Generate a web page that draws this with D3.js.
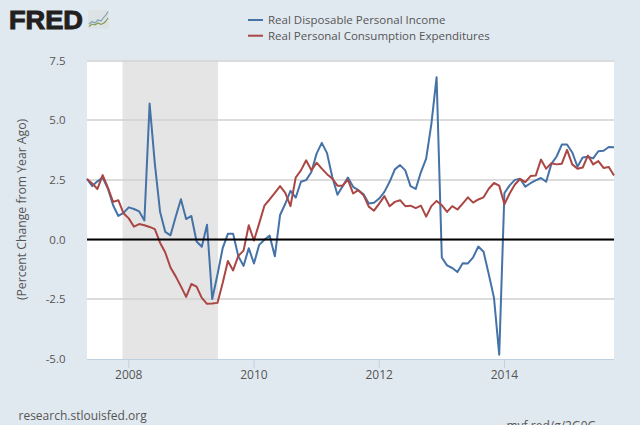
<!DOCTYPE html>
<html><head><meta charset="utf-8">
<script src="https://cdn.jsdelivr.net/npm/d3@7/dist/d3.min.js"></script>
<style>html,body{margin:0;padding:0;background:#e1e9f0;overflow:hidden}svg{display:block}text{font-family:"Open Sans",sans-serif}</style>
</head><body><svg id="c" width="640" height="425"></svg>
<script>
const startDate = new Date(2007, 4, 1);
const income = [2.54,2.24,2.44,2.6,2.14,1.44,0.99,1.12,1.35,1.28,1.18,0.8,5.7,3.18,1.17,0.32,0.18,0.96,1.69,0.86,0.99,-0.08,-0.3,0.62,-2.49,-1.47,-0.36,0.24,0.25,-0.7,-1.1,-0.36,-1.0,-0.22,-0.01,0.17,-0.7,1.03,1.5,2.04,1.76,2.42,2.49,2.83,3.6,4.05,3.62,2.63,1.88,2.24,2.6,2.21,2.07,1.9,1.51,1.54,1.72,2.0,2.42,2.94,3.12,2.9,2.24,2.12,2.83,3.39,4.85,6.8,-0.75,-1.08,-1.19,-1.36,-0.99,-1.0,-0.74,-0.29,-0.51,-1.45,-2.44,-4.82,1.95,2.27,2.5,2.55,2.22,2.36,2.48,2.58,2.42,3.17,3.48,3.98,3.98,3.65,3.05,3.44,3.47,3.4,3.7,3.72,3.88,3.87];
const consumption = [2.54,2.35,2.12,2.7,2.18,1.58,1.65,1.1,0.89,0.54,0.65,0.6,0.53,0.44,-0.13,-0.54,-1.17,-1.54,-1.96,-2.4,-1.86,-1.97,-2.44,-2.69,-2.68,-2.65,-1.82,-0.9,-1.29,-0.68,-0.46,0.6,-0.04,0.68,1.42,1.68,1.96,2.24,1.96,1.4,2.6,2.9,3.32,2.9,3.22,2.97,2.74,2.56,2.26,2.26,2.51,1.93,2.07,1.86,1.38,1.21,1.51,1.82,1.4,1.58,1.65,1.4,1.42,1.32,1.42,0.96,1.4,1.62,1.44,1.16,1.4,1.26,1.51,1.77,1.55,1.68,1.77,2.13,2.37,2.26,1.48,1.93,2.31,2.54,2.41,2.66,2.68,3.35,2.97,3.2,3.15,3.18,3.76,3.15,2.97,3.02,3.52,3.15,3.29,3.0,3.04,2.68];
const seriesNames = ["Real Disposable Personal Income","Real Personal Consumption Expenditures"];
const seriesColors = ["#4572a7","#aa4643"];
const yTicks = [7.5,5,2.5,0,-2.5,-5];
const xTickYears = [2008,2010,2012,2014];
const recession = [new Date(2007,11,1), new Date(2009,5,1)];
const yLabel = "(Percent Change from Year Ago)";

const svg = d3.select("#c");
const L=87,R=614,T=60.5,B=359;
const mi = d=>d3.timeMonth.count(startDate,d);
const x = d3.scaleLinear().domain([0,income.length-1]).range([L,R]);
const y = d3.scaleLinear().domain([-5,7.5]).range([B,T]);

svg.append("rect").attr("width",640).attr("height",425).attr("fill","#e1e9f0");
svg.append("rect").attr("x",L).attr("y",T-.5).attr("width",R-L).attr("height",B-T+.5).attr("fill","#fff");
svg.append("rect").attr("x",x(mi(recession[0]))-1).attr("y",T).attr("width",x(mi(recession[1]))-x(mi(recession[0]))+1.5).attr("height",B-T).attr("fill","#e5e5e5");

const gy = svg.append("g");
gy.selectAll("line").data(yTicks.filter(t=>t!==-5)).join("line")
  .attr("x1",L).attr("x2",R).attr("y1",d=>Math.round(y(d))).attr("y2",d=>Math.round(y(d)))
  .attr("stroke","#d0d0d0").attr("stroke-width",1.5);
gy.selectAll("text").data(yTicks).join("text")
  .attr("x",65.5).attr("y",d=>y(d)+4).attr("text-anchor","end")
  .attr("font-size",11.5).attr("fill","#555").text(d=>d.toFixed(1));

svg.append("line").attr("x1",L).attr("x2",R).attr("y1",B+.5).attr("y2",B+.5).attr("stroke","#c0d0e0");
const gx = svg.append("g");
const xt = xTickYears.map(v=>mi(new Date(v,0,1)));
gx.selectAll("line").data(xt).join("line")
  .attr("x1",d=>x(d)).attr("x2",d=>x(d)).attr("y1",B).attr("y2",B+9).attr("stroke","#c0d0e0");
gx.selectAll("text").data(xTickYears).join("text")
  .attr("x",(d,i)=>x(xt[i])).attr("y",378.5).attr("text-anchor","middle")
  .attr("font-size",12).attr("fill","#555").text(d=>d);

svg.append("text").attr("transform","translate(26,209.5) rotate(-90)").attr("text-anchor","middle")
  .attr("font-size",12.2).attr("fill","#555").text(yLabel);

const line = d3.line().x((d,i)=>x(i)).y(d=>y(d));
[income,consumption].forEach((s,k)=>{
  svg.append("path").attr("d",line(s)).attr("fill","none").attr("stroke",seriesColors[k]).attr("stroke-width",2).attr("stroke-linejoin","round");
});
svg.append("line").attr("x1",L).attr("x2",R).attr("y1",y(0)).attr("y2",y(0)).attr("stroke","#000").attr("stroke-width",2);

const lg = svg.append("g");
seriesNames.forEach((n,i)=>{
  const yy=20+15.7*i;
  lg.append("line").attr("x1",248).attr("x2",263).attr("y1",yy).attr("y2",yy).attr("stroke",seriesColors[i]).attr("stroke-width",2);
  lg.append("text").attr("x",268).attr("y",yy+4).attr("font-size",11.5).attr("fill","#555").text(n);
});

// logo
svg.append("text").attr("x",9).attr("y",29.3)
  .attr("font-size",26).attr("font-weight",700).attr("fill","#231f20").attr("stroke","#231f20").attr("stroke-width",1)
  .attr("textLength",74).attr("lengthAdjust","spacingAndGlyphs").style("font-family","'Liberation Sans'").text("FRED");
const logo = svg.append("g");
logo.append("rect").attr("x",88).attr("y",10).attr("width",21).attr("height",19).attr("fill","#dde2e4");
const lg1=[[89,24],[92,21.5],[95,23],[98,20],[101,21],[104,17],[106,15],[108,11.5]], lg2=[[89,26.5],[92,24],[95,25],[98,23],[101,24.5],[104,23],[106,21],[108,18]];
logo.append("path").attr("d",d3.line()(lg1)).attr("fill","none").attr("stroke","#7f9fb5").attr("stroke-width",1.1);
logo.append("path").attr("d",d3.line()(lg2)).attr("fill","none").attr("stroke","#7a9a4a").attr("stroke-width",1.1);

svg.append("text").attr("x",18.5).attr("y",420).attr("font-size",12).attr("fill","#555").text("research.stlouisfed.org");
svg.append("text").attr("x",506.5).attr("y",429.6).attr("font-size",12).attr("fill","#555").text("myf.red/g/2G0G");
</script></body></html>
